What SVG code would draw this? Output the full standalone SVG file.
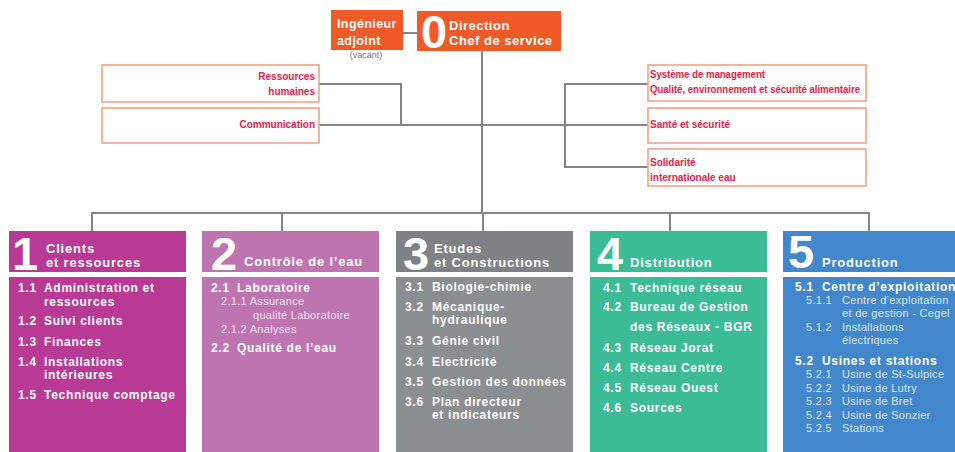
<svg xmlns="http://www.w3.org/2000/svg" width="955" height="452" viewBox="0 0 955 452">
<style>
text{font-family:"Liberation Sans",Arial,sans-serif}
.w{fill:#fff;font-weight:bold}
.big{font-size:47px;font-weight:bold;fill:#fff}
.hd{font-size:13px;font-weight:bold;fill:#fff;letter-spacing:0.8px}
.it{font-size:12px;font-weight:bold;fill:#fff;letter-spacing:0.7px}
.sub{font-size:11px;letter-spacing:0.3px}
.staff{fill:#fff;stroke:#f4a08a;stroke-width:1.6}
.st{font-size:10px;font-weight:bold;fill:#e5234d}
.con{fill:none;stroke:#858585;stroke-width:2}
</style>
<g id="connectors">
<path class="con" d="M403,33H417"/>
<path class="con" d="M482,51V213"/>
<path class="con" d="M319,84H401V125M319,125H648"/>
<path class="con" d="M648,84H565V167H648"/>
<path class="con" d="M92,231V213H869V231M282,213V231M483,213V231M670,213V231"/>
</g>
<g id="ingenieur">
<rect x="331" y="10" width="72" height="40" fill="#f05a28"/>
<text class="w" x="337" y="28" font-size="12.5" letter-spacing="0.4">Ingénieur</text>
<text class="w" x="337" y="45" font-size="12.5" letter-spacing="0.4">adjoint</text>
<text x="366" y="58" font-size="9" fill="#777" text-anchor="middle">(vacant)</text>
</g>
<g id="direction">
<rect x="417" y="11" width="144" height="40" fill="#f05a28"/>
<text class="big" x="421" y="48" font-size="42">0</text>
<text class="w" x="449" y="30" font-size="13" letter-spacing="0.5">Direction</text>
<text class="w" x="449" y="45" font-size="13" letter-spacing="0.5">Chef de service</text>
</g>
<g id="rh">
<rect class="staff" x="102" y="65" width="217" height="37"/>
<text class="st" x="315" y="80" text-anchor="end">Ressources</text>
<text class="st" x="315" y="95" text-anchor="end">humaines</text>
</g>
<g id="communication">
<rect class="staff" x="102" y="108" width="217" height="35"/>
<text class="st" x="315" y="128" text-anchor="end">Communication</text>
</g>
<g id="management">
<rect class="staff" x="648" y="65" width="218" height="36"/>
<text class="st" x="650" y="78" font-size="9.5" textLength="115" lengthAdjust="spacingAndGlyphs">Système de management</text>
<text class="st" x="650" y="93" font-size="9.5" textLength="210" lengthAdjust="spacingAndGlyphs">Qualité, environnement et sécurité alimentaire</text>
</g>
<g id="sante">
<rect class="staff" x="648" y="108" width="218" height="35"/>
<text class="st" x="650" y="128">Santé et sécurité</text>
</g>
<g id="solidarite">
<rect class="staff" x="648" y="149" width="218" height="37"/>
<text class="st" x="650" y="166">Solidarité</text>
<text class="st" x="650" y="181">internationale eau</text>
</g>
<g id="col1">
<rect x="9" y="231" width="177" height="41" fill="#b83a94"/>
<rect x="9" y="277" width="177" height="180" fill="#b83a94"/>
<text class="big" x="12" y="270">1</text>
<text class="hd" x="46" y="253">Clients</text>
<text class="hd" x="46" y="267">et ressources</text>
<text class="it" x="18" y="292">1.1</text><text class="it" x="44" y="292">Administration et</text>
<text class="it" x="44" y="306">ressources</text>
<text class="it" x="18" y="325">1.2</text><text class="it" x="44" y="325">Suivi clients</text>
<text class="it" x="18" y="346">1.3</text><text class="it" x="44" y="346">Finances</text>
<text class="it" x="18" y="366">1.4</text><text class="it" x="44" y="366">Installations</text>
<text class="it" x="44" y="379">intérieures</text>
<text class="it" x="18" y="399">1.5</text><text class="it" x="44" y="399">Technique comptage</text>
</g>
<g id="col2">
<rect x="202" y="231" width="177" height="41" fill="#bf74b2"/>
<rect x="202" y="277" width="177" height="180" fill="#bf74b2"/>
<text class="big" x="211" y="270">2</text>
<text class="hd" x="244" y="266">Contrôle de l’eau</text>
<text class="it" x="211" y="292">2.1</text><text class="it" x="237" y="292">Laboratoire</text>
<text class="sub" x="221" y="305" fill="#f3e2f0">2.1.1 Assurance</text>
<text class="sub" x="253" y="319" fill="#f3e2f0">qualité Laboratoire</text>
<text class="sub" x="221" y="333" fill="#f3e2f0">2.1.2  Analyses</text>
<text class="it" x="211" y="352">2.2</text><text class="it" x="237" y="352">Qualité de l’eau</text>
</g>
<g id="col3">
<rect x="396" y="231" width="177" height="41" fill="#7f8284"/>
<rect x="396" y="277" width="177" height="180" fill="#8b8e90"/>
<text class="big" x="403" y="270">3</text>
<text class="hd" x="434" y="253">Etudes</text>
<text class="hd" x="434" y="267">et Constructions</text>
<text class="it" x="405" y="291">3.1</text><text class="it" x="432" y="291">Biologie-chimie</text>
<text class="it" x="405" y="311">3.2</text><text class="it" x="432" y="311">Mécanique-</text>
<text class="it" x="432" y="324">hydraulique</text>
<text class="it" x="405" y="345">3.3</text><text class="it" x="432" y="345">Génie civil</text>
<text class="it" x="405" y="366">3.4</text><text class="it" x="432" y="366">Electricité</text>
<text class="it" x="405" y="386">3.5</text><text class="it" x="432" y="386">Gestion des données</text>
<text class="it" x="405" y="406">3.6</text><text class="it" x="432" y="406">Plan directeur</text>
<text class="it" x="432" y="419">et indicateurs</text>
</g>
<g id="col4">
<rect x="590" y="231" width="177" height="41" fill="#3bbb96"/>
<rect x="590" y="277" width="177" height="180" fill="#3bbb96"/>
<text class="big" x="597" y="270">4</text>
<text class="hd" x="630" y="267">Distribution</text>
<text class="it" x="603" y="292">4.1</text><text class="it" x="630" y="292">Technique réseau</text>
<text class="it" x="603" y="311">4.2</text><text class="it" x="630" y="311">Bureau de Gestion</text>
<text class="it" x="630" y="331">des Réseaux - BGR</text>
<text class="it" x="603" y="352">4.3</text><text class="it" x="630" y="352">Réseau Jorat</text>
<text class="it" x="603" y="372">4.4</text><text class="it" x="630" y="372">Réseau Centre</text>
<text class="it" x="603" y="392">4.5</text><text class="it" x="630" y="392">Réseau Ouest</text>
<text class="it" x="603" y="412">4.6</text><text class="it" x="630" y="412">Sources</text>
</g>
<g id="col5">
<rect x="783" y="231" width="180" height="41" fill="#4287cb"/>
<rect x="783" y="277" width="180" height="180" fill="#4287cb"/>
<text class="big" x="788" y="268">5</text>
<text class="hd" x="822" y="267">Production</text>
<text class="it" x="795" y="291">5.1</text><text class="it" x="822" y="291">Centre d’exploitation</text>
<text class="sub" x="806" y="304" fill="#dbe8f6">5.1.1</text><text class="sub" x="842" y="304" fill="#dbe8f6">Centre d’exploitation</text>
<text class="sub" x="842" y="317" fill="#dbe8f6">et de gestion - Cegel</text>
<text class="sub" x="806" y="331" fill="#dbe8f6">5.1.2</text><text class="sub" x="842" y="331" fill="#dbe8f6">Installations</text>
<text class="sub" x="842" y="344" fill="#dbe8f6">électriques</text>
<text class="it" x="795" y="365">5.2</text><text class="it" x="822" y="365">Usines et stations</text>
<text class="sub" x="806" y="378" fill="#dbe8f6">5.2.1</text><text class="sub" x="842" y="378" fill="#dbe8f6">Usine de St-Sulpice</text>
<text class="sub" x="806" y="392" fill="#dbe8f6">5.2.2</text><text class="sub" x="842" y="392" fill="#dbe8f6">Usine de Lutry</text>
<text class="sub" x="806" y="405" fill="#dbe8f6">5.2.3</text><text class="sub" x="842" y="405" fill="#dbe8f6">Usine de Bret</text>
<text class="sub" x="806" y="419" fill="#dbe8f6">5.2.4</text><text class="sub" x="842" y="419" fill="#dbe8f6">Usine de Sonzier</text>
<text class="sub" x="806" y="432" fill="#dbe8f6">5.2.5</text><text class="sub" x="842" y="432" fill="#dbe8f6">Stations</text>
</g>
</svg>
